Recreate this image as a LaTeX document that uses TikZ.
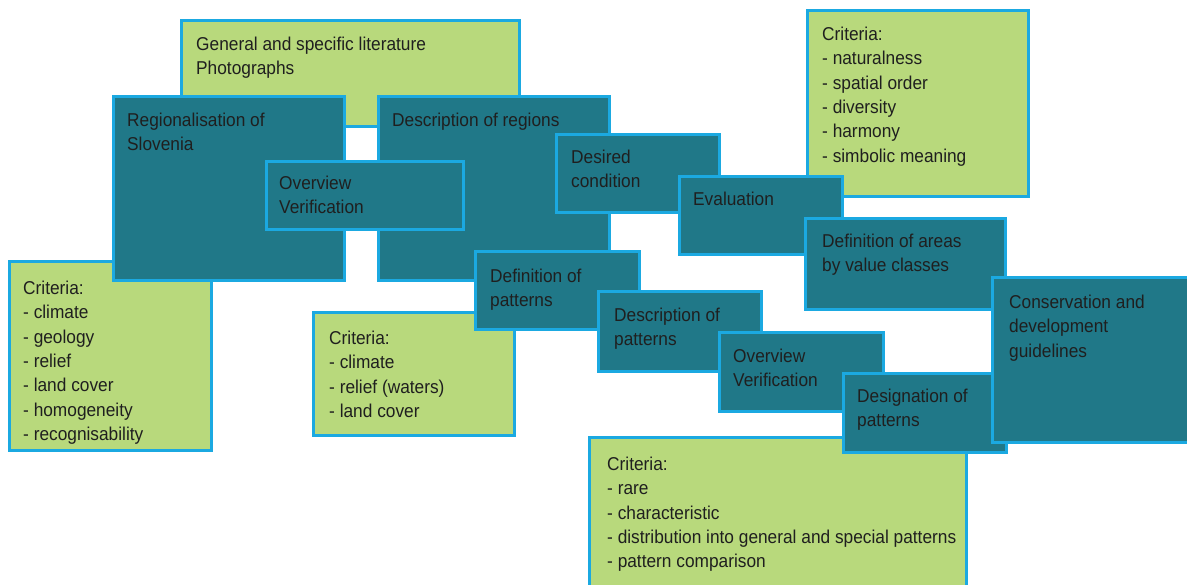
\documentclass[tikz,border=0pt]{standalone}
\usepackage{fontspec}
\setmainfont{Liberation Sans}[FakeStretch=0.93]
\usetikzlibrary{positioning}

\definecolor{leafgreen}{HTML}{B8D97C}
\definecolor{skyline}{HTML}{1BA9E1}
\definecolor{deepteal}{HTML}{207888}

\tikzset{
  box/.style={draw=skyline, line width=3pt, anchor=north west, inner sep=0pt, outer sep=0pt},
  greenbox/.style={box, fill=leafgreen},
  tealbox/.style={box, fill=deepteal},
  boxtext/.style={anchor=north west, inner sep=0pt, align=left, text=black!88,
    font=\fontsize{18.6}{24.3}\selectfont}
}

\begin{document}
\begin{tikzpicture}[x=1pt, y=-1pt]
        \useasboundingbox (0,0) rectangle (1187,585);

        % sources and first regionalisation
        \node[greenbox, minimum width=338pt, minimum height=106pt] (lit) at (181,21) {};
        \node[boxtext, below right=16pt and 15pt of lit.north west] (lit-t) {General and specific literature\\Photographs};
        \node[greenbox, minimum width=202pt, minimum height=188pt] (critA) at (9,262) {};
        \node[boxtext, below right=19pt and 14pt of critA.north west] (critA-t) {Criteria:\\- climate\\- geology\\- relief\\- land cover\\- homogeneity\\- recognisability};
        \node[tealbox, minimum width=231pt, minimum height=184pt] (regio) at (113,97) {};
        \node[boxtext, below right=16pt and 14pt of regio.north west] (regio-t) {Regionalisation of\\Slovenia};
        \node[tealbox, minimum width=231pt, minimum height=184pt] (descreg) at (378,97) {};
        \node[boxtext, below right=16pt and 14pt of descreg.north west] (descreg-t) {Description of regions};
        \node[tealbox, minimum width=197pt, minimum height=68pt] (overA) at (266,162) {};
        \node[boxtext, below right=14pt and 13pt of overA.north west] (overA-t) {Overview\\Verification};

        % evaluation branch
        \node[tealbox, minimum width=163pt, minimum height=78pt] (desired) at (556,135) {};
        \node[boxtext, below right=15pt and 15pt of desired.north west] (desired-t) {Desired\\condition};
        \node[greenbox, minimum width=221pt, minimum height=186pt] (critB) at (807,11) {};
        \node[boxtext, below right=16pt and 15pt of critB.north west] (critB-t) {Criteria:\\- naturalness\\- spatial order\\- diversity\\- harmony\\- simbolic meaning};
        \node[tealbox, minimum width=163pt, minimum height=78pt] (evalu) at (679,177) {};
        \node[boxtext, below right=15pt and 14pt of evalu.north west] (evalu-t) {Evaluation};
        \node[tealbox, minimum width=200pt, minimum height=91pt] (defareas) at (805,219) {};
        \node[boxtext, below right=15pt and 17pt of defareas.north west] (defareas-t) {Definition of areas\\by value classes};

        % patterns branch
        \node[greenbox, minimum width=201pt, minimum height=123pt] (critC) at (313,313) {};
        \node[boxtext, below right=18pt and 16pt of critC.north west] (critC-t) {Criteria:\\- climate\\- relief (waters)\\- land cover};
        \node[tealbox, minimum width=164pt, minimum height=78pt] (defpat) at (475,252) {};
        \node[boxtext, below right=17pt and 15pt of defpat.north west] (defpat-t) {Definition of\\patterns};
        \node[tealbox, minimum width=163pt, minimum height=80pt] (descpat) at (598,292) {};
        \node[boxtext, below right=16pt and 16pt of descpat.north west] (descpat-t) {Description of\\patterns};
        \node[tealbox, minimum width=164pt, minimum height=79pt] (overB) at (719,333) {};
        \node[boxtext, below right=16pt and 14pt of overB.north west] (overB-t) {Overview\\Verification};
        \node[greenbox, minimum width=377pt, minimum height=170pt] (critD) at (589,438) {};
        \node[boxtext, below right=19pt and 18pt of critD.north west] (critD-t) {Criteria:\\- rare\\- characteristic\\- distribution into general and special patterns\\- pattern comparison};
        \node[tealbox, minimum width=163pt, minimum height=78pt] (design) at (843,374) {};
        \node[boxtext, below right=15pt and 14pt of design.north west] (design-t) {Designation of\\patterns};

        % result
        \node[tealbox, minimum width=210pt, minimum height=165pt] (conserv) at (992,278) {};
        \node[boxtext, below right=17pt and 17pt of conserv.north west] (conserv-t) {Conservation and\\development\\guidelines};

    \end{tikzpicture}
\end{document}
